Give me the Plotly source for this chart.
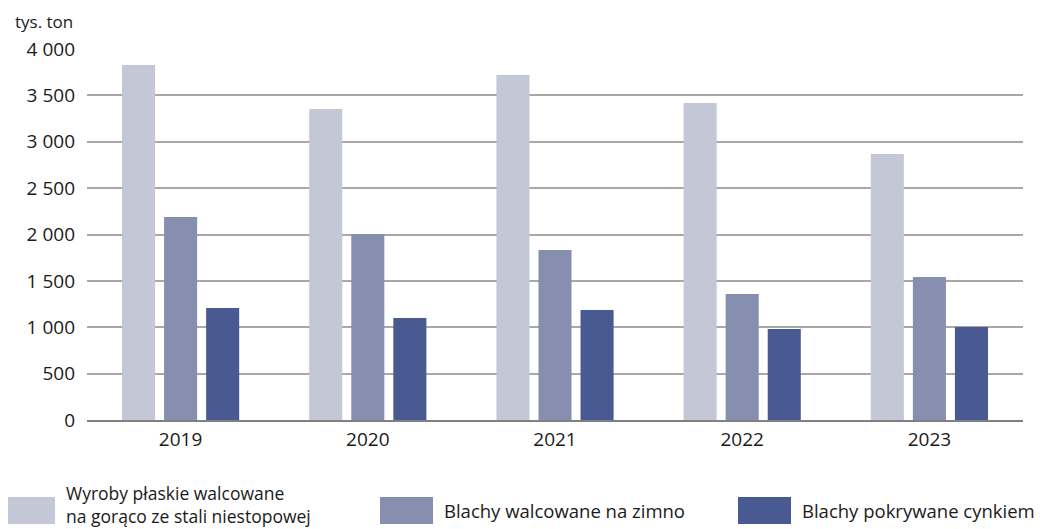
import plotly.graph_objects as go

years = ["2019", "2020", "2021", "2022", "2023"]
series_names = [
    "Wyroby płaskie walcowane<br>na gorąco ze stali niestopowej",
    "Blachy walcowane na zimno",
    "Blachy pokrywane cynkiem",
]
hot_rolled = [3827, 3353, 3720, 3418, 2868]
cold_rolled = [2189, 2005, 1833, 1358, 1542]
galvanized = [1208, 1100, 1186, 981, 1003]
y_ticks = [0, 500, 1000, 1500, 2000, 2500, 3000, 3500, 4000]

colors = ["#c3c7d6", "#868faf", "#485a91"]
FONT = "Open Sans, Noto Sans, sans-serif"
TXT = "#1a1a1a"

# page geometry (the page body adds an 8 px offset)
PX0, PX1, PY0, PY1 = 87, 1023, 420, 49


def px(x):
    return (x - PX0) / (PX1 - PX0)


def py(y):
    return (PY0 - y) / (PY0 - PY1)


fig = go.Figure()
for name, vals, col in zip(series_names, [hot_rolled, cold_rolled, galvanized], colors):
    fig.add_trace(go.Bar(x=years, y=vals, name=name.replace("<br>", " "),
                         marker=dict(color=col, line=dict(width=0)), showlegend=False))

fig.update_layout(
    width=1039, height=521,
    margin=dict(l=79, r=24, t=41, b=109),
    paper_bgcolor="white", plot_bgcolor="white",
    barmode="group", bargap=0.326, bargroupgap=0.214,
    separators=", ",
    font=dict(family=FONT, size=19, color=TXT),
    xaxis=dict(showgrid=False, showline=True, linecolor="#808080", linewidth=1.5,
               ticks="", tickfont=dict(size=19), ticklabelstandoff=1),
    yaxis=dict(range=[0, 4000], tickvals=y_ticks, tickformat=",d",
               showgrid=True, gridcolor="#a8a8a8", gridwidth=1.5,
               zeroline=False, showline=False, ticks="",
               tickfont=dict(size=19), ticklabelstandoff=11),
)

fig.add_annotation(text="tys. ton", xref="paper", yref="paper", x=px(13), y=py(21),
                   xanchor="left", yanchor="middle", showarrow=False,
                   font=dict(size=17, family=FONT, color=TXT))

# custom legend (large swatches)
leg_x = [2, 380, 738]
for name, col, lx in zip(series_names, colors, leg_x):
    fig.add_shape(type="rect", xref="paper", yref="paper",
                  x0=px(lx), x1=px(lx + 53), y0=py(524), y1=py(497),
                  fillcolor=col, line=dict(width=0))
    two = "<br>" in name
    fig.add_annotation(text=name, xref="paper", yref="paper",
                       x=px(lx + 62), y=py(504 if two else 510),
                       xanchor="left", yanchor="middle", align="left", showarrow=False,
                       font=dict(size=17.5 if two else 18.5, family=FONT, color=TXT))

fig.write_html("out.html")
